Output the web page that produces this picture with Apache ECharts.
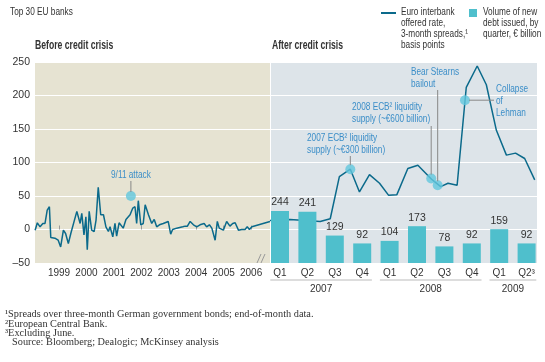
<!DOCTYPE html>
<html><head><meta charset="utf-8">
<script src="https://cdn.jsdelivr.net/npm/echarts@6/dist/echarts.min.js"></script>
<style>html,body{margin:0;padding:0;background:#fff}#c{width:545px;height:362px}</style>
</head><body><div id="c"></div>
<script>
// ---------- data ----------
const yTicks = [-50, 0, 50, 100, 150, 200, 250];
const yearTicks = [1999, 2000, 2001, 2002, 2003, 2004, 2005, 2006];
// Before credit crisis: spread (bp), x = fractional year
const beforeYear = [1998.13,1998.21,1998.31,1998.41,1998.49,1998.57,1998.65,1998.70,1998.85,1998.97,1999.06,1999.16,1999.24,1999.34,1999.43,1999.50,1999.65,1999.77,1999.83,1999.91,1999.98,2000.03,2000.10,2000.19,2000.28,2000.35,2000.43,2000.52,2000.62,2000.71,2000.80,2000.86,2000.96,2001.04,2001.10,2001.19,2001.25,2001.34,2001.44,2001.59,2001.69,2001.77,2001.83,2001.89,2001.98,2002.07,2002.14,2002.26,2002.38,2002.47,2002.56,2002.66,2002.80,2002.98,2003.07,2003.14,2003.29,2003.35,2003.51,2003.60,2003.68,2003.78,2003.90,2004.02,2004.14,2004.29,2004.38,2004.48,2004.57,2004.69,2004.77,2004.84,2004.91,2004.99,2005.11,2005.23,2005.33,2005.42,2005.54,2005.66,2005.78,2005.86,2005.94,2006.03,2006.69];
const beforeSpread = [-1,10,4,9,9,29,34,-12,-13,-16,-26,-1,-6,-21,-6,-6,27,9,24,-8,19,-30,27,-1,-3,14,63,22,22,4,-3,4,-11,9,-10,10,12,2,15,22,32,34,9,43,7,9,37,22,9,15,4,7,9,12,-7,0,2,4,4,5,5,12,7,4,7,9,4,7,2,-16,12,2,4,-1,12,5,9,10,-1,0,0,4,0,4,12];
// After credit crisis: x = months since Jan 2007
const afterMonth = [0,2.6,5.9,7.0,8.0,9.2,10.2,11.3,12.4,13.4,14.3,15.5,16.6,18.1,19.1,19.9,20.9,21.9,23.1,24.1,25.2,26.3,27.3,28.3,29.4];
const afterSpread = [13,15,12,16,79,90,56,82,69,51,52,91,96,75,64,69,66,212,244,216,148,111,114,106,74];
const quarters = ['Q1','Q2','Q3','Q4','Q1','Q2','Q3','Q4','Q1','Q2³'];
const quarterYears = ['2007','2008','2009'];
const quartersPerYear = [4, 4, 2];
const debtVolume = [244,241,129,92,104,173,78,92,159,92];
const beforeEvents = [[2001.62, 50]];
const afterEvents = [[9.2, 90], [18.06, 76], [18.77, 66], [21.76, 193]];

// ---------- style ----------
const SANS = "'Liberation Sans',Arial,sans-serif";
const SERIF = "'Liberation Serif','DejaVu Serif',serif";
const LINE = '#0b6a8b', BAR = '#4fbfcc', DOT = '#62c7dd', NOTE = '#3b8ec8', TXT = '#333';
const BEIGE = '#e6e3d2', BLUEBG = '#dde4e9';
const SQUEEZE = 0.75;

const chart = echarts.init(document.getElementById('c'), null, {renderer: 'canvas'});
const TOP = 62, BOTTOM = 99;

const yFmt = v => (v < 0 ? '\u2013' + Math.abs(v) : String(v));
const axisFont = {color: TXT, fontSize: 10, fontFamily: SANS};

const option = {
  animation: false,
  grid: [
    {left: 35, width: 235, top: TOP, bottom: BOTTOM, show: true, backgroundColor: BEIGE, borderWidth: 0},
    {left: 271, width: 266, top: TOP, bottom: BOTTOM, show: true, backgroundColor: BLUEBG, borderWidth: 0},
    {left: 266.3, width: 274, top: TOP, bottom: BOTTOM}
  ],
  xAxis: [
    {gridIndex: 0, type: 'value', min: 1998.125, max: 2006.69,
      axisLine: {show: false}, splitLine: {show: false},
      axisTick: {show: true, inside: true, length: 4, lineStyle: {color: '#999'}, customValues: yearTicks},
      axisLabel: Object.assign({customValues: yearTicks, formatter: v => String(Math.round(v)), margin: 5}, axisFont)},
    {gridIndex: 1, type: 'value', min: 0.51, max: 29.65, show: false},
    {gridIndex: 2, type: 'category', data: quarters,
      axisLine: {show: false}, axisTick: {show: false},
      axisLabel: Object.assign({margin: 5, interval: 0}, axisFont)}
  ],
  yAxis: [
    {gridIndex: 0, type: 'value', min: -50, max: 250, interval: 50,
      axisLine: {show: false}, axisTick: {show: false},
      axisLabel: Object.assign({formatter: yFmt, margin: 5}, axisFont, {fontSize: 10.5}),
      splitLine: {lineStyle: {color: '#fff', width: 1}}},
    {gridIndex: 1, type: 'value', min: -50, max: 250, interval: 50,
      axisLine: {show: false}, axisTick: {show: false}, axisLabel: {show: false},
      splitLine: {lineStyle: {color: '#fff', width: 1}}},
    {gridIndex: 2, type: 'value', min: 0, max: 945, show: false}
  ],
  series: [
    {type: 'line', xAxisIndex: 0, yAxisIndex: 0, data: beforeYear.map((x, i) => [x, beforeSpread[i]]),
      showSymbol: false, lineStyle: {color: LINE, width: 1.5}, z: 3},
    {type: 'line', xAxisIndex: 1, yAxisIndex: 1, data: afterMonth.map((x, i) => [x, afterSpread[i]]),
      showSymbol: false, lineStyle: {color: LINE, width: 1.5}, z: 3},
    {type: 'bar', xAxisIndex: 2, yAxisIndex: 2, data: debtVolume, barWidth: 18,
      itemStyle: {color: BAR}, z: 4,
      label: {show: true, position: 'top', distance: 3, color: TXT, fontSize: 10.5, fontFamily: SANS}},
    {type: 'scatter', xAxisIndex: 0, yAxisIndex: 0, data: beforeEvents, symbolSize: 10,
      itemStyle: {color: DOT}, z: 6},
    {type: 'scatter', xAxisIndex: 1, yAxisIndex: 1, data: afterEvents, symbolSize: 10,
      itemStyle: {color: DOT}, z: 6}
  ]
};
chart.setOption(option);

// ---------- annotations / decorations ----------
const g = [];
const txt = (x, y, s, o = {}, sx = SQUEEZE) => g.push({type: 'text', x, y, scaleX: sx, silent: true, z: 20,
  style: Object.assign({text: s, fill: TXT, font: '11px ' + SANS, textVerticalAlign: 'middle'}, o)});
const ln = (x1, y1, x2, y2, c = '#888', w = 1) => g.push({type: 'line', silent: true, z: 19,
  shape: {x1, y1, x2, y2}, style: {stroke: c, lineWidth: w}});

txt(10, 12, 'Top 30 EU banks');
txt(35, 46, 'Before credit crisis', {font: 'bold 12px ' + SANS}, 0.72);
txt(272, 46, 'After credit crisis', {font: 'bold 12px ' + SANS}, 0.72);

// legend
ln(381, 13, 396, 13, LINE, 2);
['Euro interbank', 'offered rate,', '3-month spreads,\u00b9', 'basis points'].forEach((s, i) => txt(401, 12 + i * 11, s));
g.push({type: 'rect', silent: true, z: 20, shape: {x: 469, y: 9, width: 8, height: 8}, style: {fill: BAR}});
['Volume of new', 'debt issued, by', 'quarter, \u20ac billion'].forEach((s, i) => txt(483, 12 + i * 11, s));

// event labels
const p0 = chart.convertToPixel({xAxisIndex: 0, yAxisIndex: 0}, beforeEvents[0]);
txt(p0[0], 175, '9/11 attack', {fill: NOTE, textAlign: 'center'});
ln(p0[0], 181, p0[0], p0[1] - 4);

const pe = afterEvents.map(e => chart.convertToPixel({xAxisIndex: 1, yAxisIndex: 1}, e));
txt(307, 138, '2007 ECB\u00b2 liquidity', {fill: NOTE});
txt(307, 150, 'supply (~\u20ac300 billion)', {fill: NOTE});
ln(pe[0][0], 156, pe[0][0], pe[0][1] - 4);
txt(352, 107, '2008 ECB\u00b2 liquidity', {fill: NOTE});
txt(352, 119, 'supply (~\u20ac600 billion)', {fill: NOTE});
ln(pe[1][0], 126, pe[1][0], pe[1][1] - 4);
txt(411, 72, 'Bear Stearns', {fill: NOTE});
txt(411, 84, 'bailout', {fill: NOTE});
ln(pe[2][0], 90, pe[2][0], pe[2][1] - 4);
txt(496, 89, 'Collapse', {fill: NOTE});
txt(496, 101, 'of', {fill: NOTE});
txt(496, 113, 'Lehman', {fill: NOTE});
ln(pe[3][0] + 4, pe[3][1], 494, pe[3][1]);

// axis break symbol
ln(257, 263, 261, 254, '#999');
ln(261, 263, 265, 254, '#999');

// year groups under quarters
const band = 274 / quarters.length;
let start = 0;
quarterYears.forEach((y, k) => {
  const a = chart.convertToPixel({xAxisIndex: 2}, start);
  const b = chart.convertToPixel({xAxisIndex: 2}, start + quartersPerYear[k] - 1);
  ln(a - band / 2 + 4, 280, b + band / 2 - 4, 280, '#bbb');
  g.push({type: 'text', x: (a + b) / 2, y: 289, silent: true, z: 20,
    style: {text: y, fill: TXT, font: '10px ' + SANS, textAlign: 'center', textVerticalAlign: 'middle'}});
  start += quartersPerYear[k];
});

// footnotes
const fn = {font: '10.3px ' + SERIF, fill: TXT};
txt(5, 314, '\u00b9Spreads over three-month German government bonds; end-of-month data.', fn, 1);
txt(5, 324, '\u00b2European Central Bank.', fn, 1);
txt(5, 333, '\u00b3Excluding June.', fn, 1);
txt(12, 342, 'Source: Bloomberg; Dealogic; McKinsey analysis', fn, 1);

chart.setOption({graphic: g});
</script></body></html>
